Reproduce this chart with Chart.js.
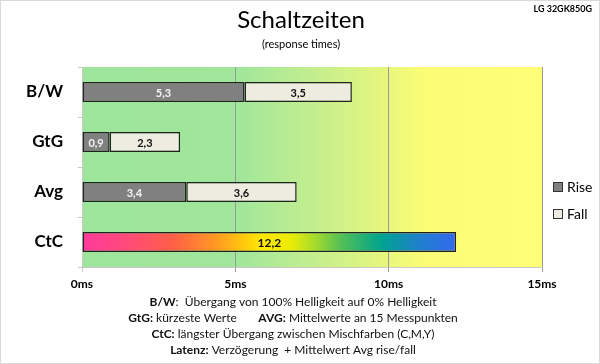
<!DOCTYPE html>
<html lang="de">
<head>
  <meta charset="UTF-8">
  <title>Schaltzeiten</title>
  <style>
    body {
      margin: 0;
      background: #fff;
    }
    #wrap {
      position: relative;
      width: 600px;
      height: 364px;
    }
  </style>
</head>
<body>
  <div id="wrap"><canvas id="chart"></canvas></div>

  <script src="https://cdn.jsdelivr.net/npm/chart.js/dist/chart.umd.min.js"></script>
  <script>
    const categories = ['B/W', 'GtG', 'Avg', 'CtC'];
    const riseValues = [5.3, 0.9, 3.4, null];
    const fallValues = [3.5, 2.3, 3.6, null];
    const ctcValues  = [null, null, null, 12.2];
    const xMin = 0, xMax = 15, xStep = 5;
    const xUnit = 'ms';

    const seriesNames = ['Rise', 'Fall'];
    const noteLines = [
      [['B/W', true], [':  Übergang von 100% Helligkeit auf 0% Helligkeit', false]],
      [['GtG:', true], [' kürzeste Werte       ', false], ['AVG:', true], [' Mittelwerte an 15 Messpunkten', false]],
      [['CtC:', true], [' längster Übergang zwischen Mischfarben (C,M,Y)', false]],
      [['Latenz:', true], [' Verzögerung  + Mittelwert Avg rise/fall', false]]
    ];

    const FONT = 'Lato, "Open Sans", sans-serif';

    const fmt = v => String(v).replace('.', ',');

    // green -> yellow background behind the bars
    const backgroundPlugin = {
      id: 'zoneBackground',
      beforeDraw(chart) {
        const { ctx, chartArea: a } = chart;
        const g = ctx.createLinearGradient(a.left, 0, a.right, 0);
        g.addColorStop(0, '#9de59b');
        g.addColorStop(0.34, '#a0e69b');
        g.addColorStop(0.5, '#c3ee8f');
        g.addColorStop(0.64, '#e2f57f');
        g.addColorStop(0.74, '#fbfc76');
        g.addColorStop(1, '#ffff77');
        ctx.save();
        ctx.fillStyle = g;
        ctx.fillRect(a.left, a.top, a.right - a.left, a.bottom - a.top);
        ctx.restore();
      }
    };

    // value labels inside the bars
    const labelPlugin = {
      id: 'barLabels',
      afterDatasetsDraw(chart) {
        const { ctx } = chart;
        ctx.save();
        ctx.textAlign = 'center';
        ctx.textBaseline = 'middle';
        chart.data.datasets.forEach((ds, i) => {
          chart.getDatasetMeta(i).data.forEach((bar, j) => {
            const v = ds.data[j];
            if (v == null) return;
            ctx.fillStyle = ds.labelColor;
            ctx.font = 'bold ' + ds.labelSize + 'px ' + FONT;
            ctx.fillText(fmt(v), (bar.x + bar.base) / 2, bar.y + 1);
          });
        });
        ctx.restore();
      }
    };

    // legend, model tag, notes and outer frame
    const extrasPlugin = {
      id: 'extras',
      afterDraw(chart) {
        const { ctx, chartArea: a } = chart;
        ctx.save();

        // legend
        ctx.font = '14px ' + FONT;
        ctx.textBaseline = 'middle';
        ctx.textAlign = 'left';
        seriesNames.forEach((name, i) => {
          const ds = chart.data.datasets[i];
          const y = 187 + i * 27;
          const x = a.right + 11;
          ctx.fillStyle = ds.backgroundColor;
          ctx.fillRect(x, y - 5, 10, 10);
          ctx.strokeStyle = '#333';
          ctx.lineWidth = 1;
          ctx.strokeRect(x + 0.5, y - 4.5, 9, 9);
          ctx.fillStyle = '#000';
          ctx.fillText(name, x + 14, y);
        });

        // model tag
        ctx.font = 'bold 9px ' + FONT;
        ctx.textAlign = 'right';
        ctx.textBaseline = 'alphabetic';
        ctx.fillText('LG 32GK850G', 592, 12);

        // notes under the chart
        const cx = 293;
        noteLines.forEach((segs, i) => {
          const y = 306 + i * 16;
          let w = 0;
          segs.forEach(([t, b]) => {
            ctx.font = (b ? 'bold ' : '') + '12px ' + FONT;
            w += ctx.measureText(t).width;
          });
          let x = cx - w / 2;
          ctx.textAlign = 'left';
          segs.forEach(([t, b]) => {
            ctx.font = (b ? 'bold ' : '') + '12px ' + FONT;
            ctx.fillStyle = '#111';
            ctx.fillText(t, x, y);
            x += ctx.measureText(t).width;
          });
        });

        // frame
        ctx.strokeStyle = '#d9d9d9';
        ctx.lineWidth = 1;
        ctx.strokeRect(0.5, 0.5, chart.width - 1, chart.height - 1);
        ctx.restore();
      }
    };

    const ctcFill = context => {
      const chart = context.chart;
      if (!chart.chartArea) return '#ff3399';
      const x = chart.scales.x;
      const x0 = x.getPixelForValue(0);
      const x1 = x.getPixelForValue(ctcValues[3]);
      const g = chart.ctx.createLinearGradient(x0, 0, x1, 0);
      g.addColorStop(0, '#ff3a9c');
      g.addColorStop(0.12, '#ff4a7a');
      g.addColorStop(0.24, '#ff5e48');
      g.addColorStop(0.36, '#ff9a22');
      g.addColorStop(0.48, '#ffe800');
      g.addColorStop(0.56, '#eaec08');
      g.addColorStop(0.62, '#a8dc2a');
      g.addColorStop(0.69, '#55c055');
      g.addColorStop(0.8, '#00a48e');
      g.addColorStop(0.9, '#1f80cc');
      g.addColorStop(1, '#3468f0');
      return g;
    };

    new Chart(document.getElementById('chart'), {
      type: 'bar',
      data: {
        labels: categories,
        datasets: [
          {
            label: seriesNames[0],
            data: riseValues,
            backgroundColor: '#808080',
            borderColor: '#222',
            borderWidth: 1.5,
            borderSkipped: false,
            labelColor: '#f4f4f4',
            labelSize: 11
          },
          {
            label: seriesNames[1],
            data: fallValues,
            backgroundColor: '#eeebe0',
            borderColor: '#222',
            borderWidth: 1.5,
            borderSkipped: false,
            labelColor: '#111',
            labelSize: 11
          },
          {
            label: 'CtC',
            data: ctcValues,
            backgroundColor: ctcFill,
            borderColor: '#222',
            borderWidth: 1.5,
            borderSkipped: false,
            labelColor: '#111',
            labelSize: 12
          }
        ]
      },
      options: {
        indexAxis: 'y',
        responsive: true,
        maintainAspectRatio: false,
        animation: false,
        categoryPercentage: 0.4,
        barPercentage: 1,
        layout: {
          padding: { left: 2, right: 0, bottom: 72, top: 0 }
        },
        plugins: {
          legend: { display: false },
          tooltip: { enabled: false },
          title: {
            display: true,
            text: 'Schaltzeiten',
            color: '#000',
            font: { family: FONT, size: 24, weight: 'normal' },
            padding: { top: 6, bottom: 3 }
          },
          subtitle: {
            display: true,
            text: '(response times)',
            color: '#000',
            font: { family: FONT, size: 11 },
            padding: { top: 0, bottom: 16 }
          }
        },
        scales: {
          x: {
            stacked: true,
            min: xMin,
            max: xMax,
            afterFit(scale) { scale.height = 25; },
            ticks: {
              stepSize: xStep,
              color: '#000',
              font: { family: FONT, size: 12, weight: 'bold' },
              padding: 5,
              callback: v => v + xUnit
            },
            grid: {
              color: c => (c.tick && c.tick.value === 0) ? '#c8c8c8' : '#9a9a9a',
              tickLength: 5
            },
            border: { color: '#c8c8c8' }
          },
          y: {
            stacked: true,
            afterFit(scale) { scale.width = 80; },
            ticks: {
              color: '#000',
              font: { family: FONT, size: 17, weight: 'bold' },
              padding: 15
            },
            grid: {
              offset: true,
              drawOnChartArea: false,
              color: '#c8c8c8',
              tickLength: 4
            },
            border: { color: '#c8c8c8' }
          },
          // empty strip on the right that holds the legend
          legendSpace: {
            type: 'linear',
            position: 'right',
            afterFit(scale) { scale.width = 58; },
            grid: { display: false },
            ticks: { display: false },
            border: { display: false }
          }
        }
      },
      plugins: [backgroundPlugin, labelPlugin, extrasPlugin]
    });
  </script>
</body>
</html>
